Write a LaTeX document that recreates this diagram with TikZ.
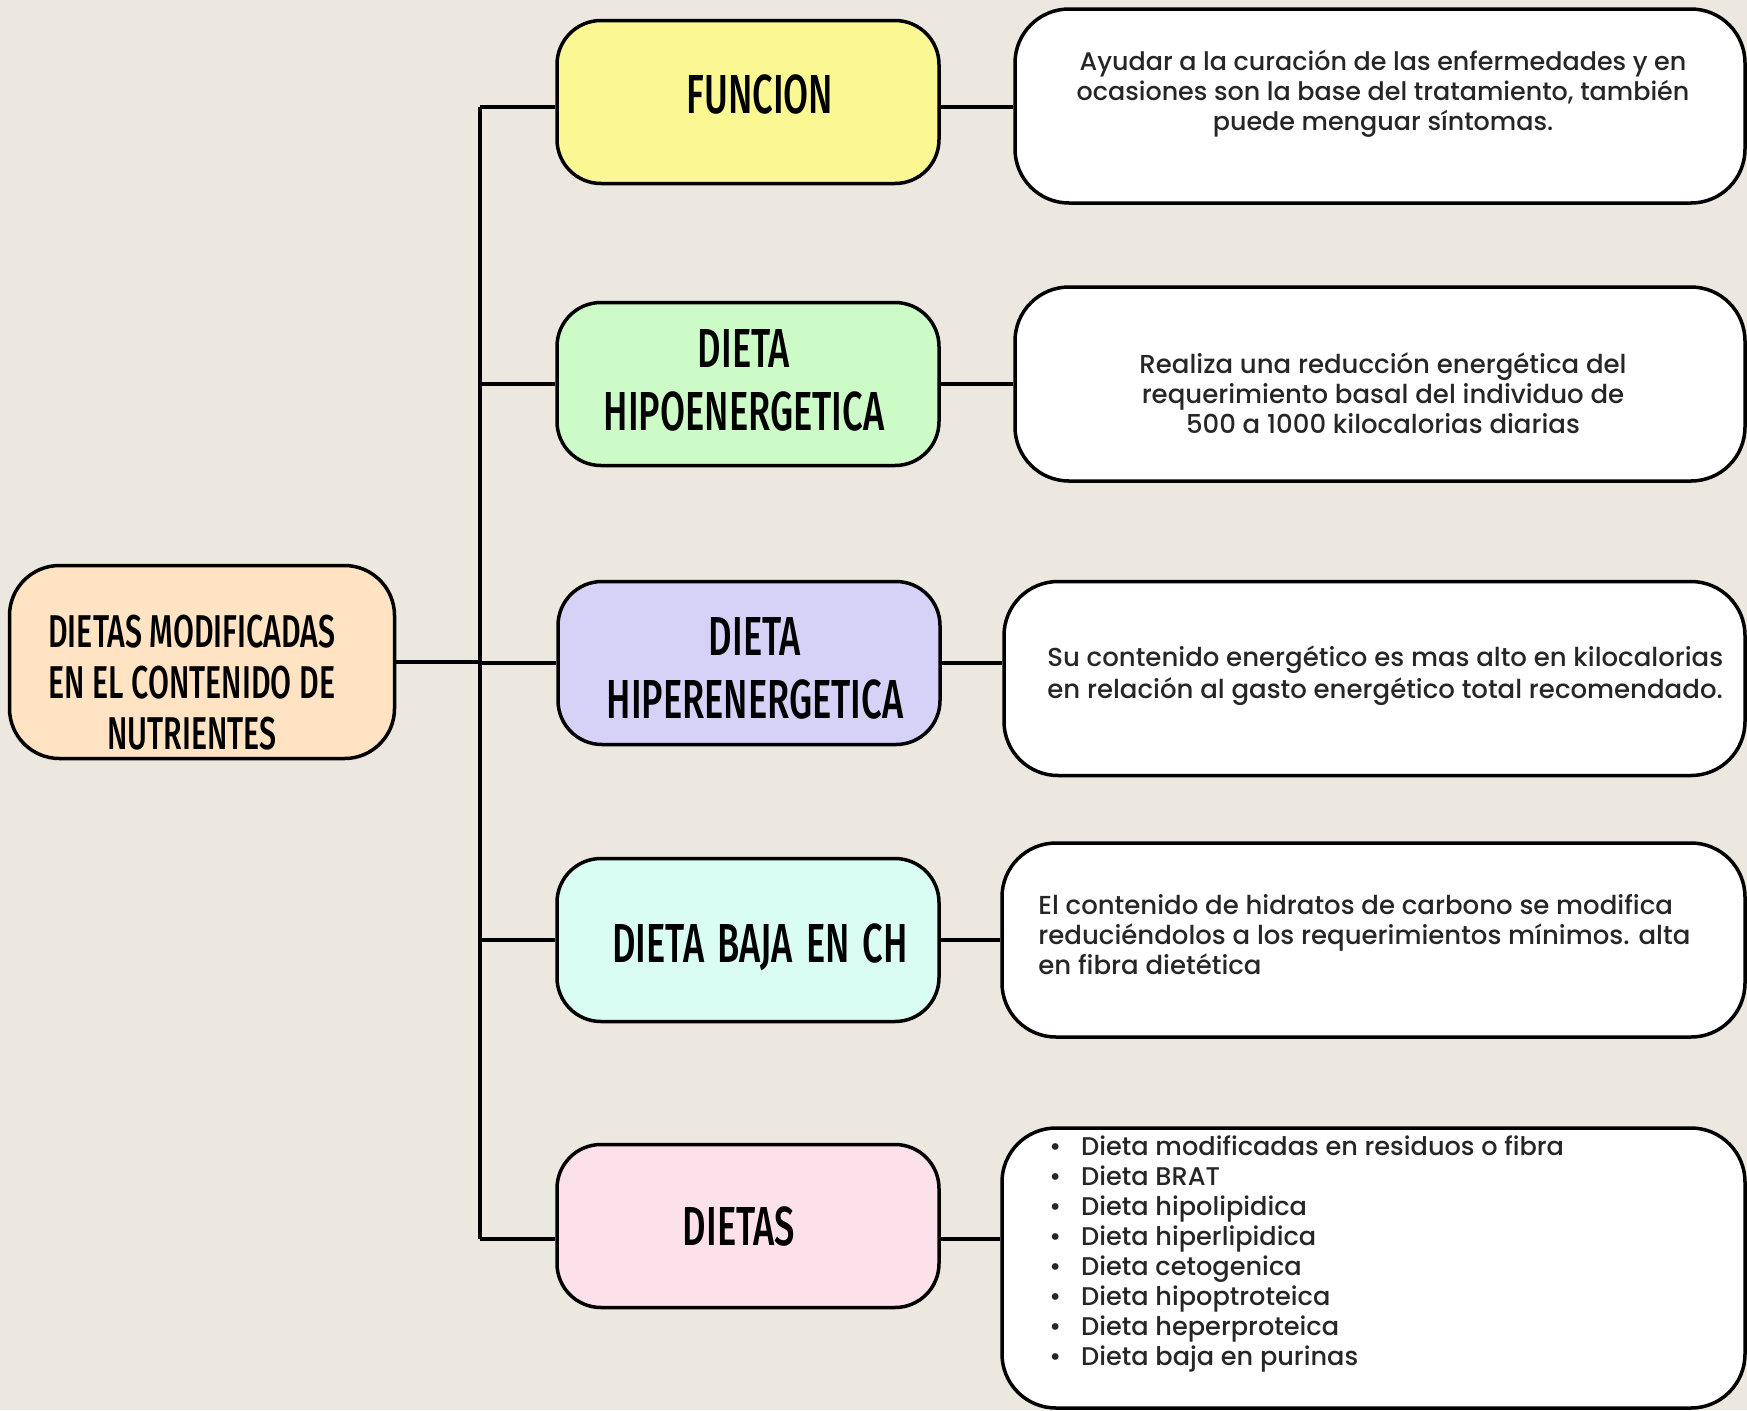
\documentclass[tikz,border=0pt]{standalone}
\usepackage{fontspec}
\setmainfont{Poppins Medium}
\newfontfamily\headfont[FakeStretch=0.66]{Fira Sans Medium}
\usepackage{xcolor}
\usetikzlibrary{calc}
\definecolor{paper}{HTML}{ECE8E0}
\definecolor{ink}{HTML}{262626}
\definecolor{peach}{HTML}{FFE3C2}
\definecolor{lemon}{HTML}{FBF893}
\definecolor{mint}{HTML}{CCFBC8}
\definecolor{lilac}{HTML}{D6D1F7}
\definecolor{aqua}{HTML}{D9FCF3}
\definecolor{rose}{HTML}{FDE1EA}

\begin{document}
\begin{tikzpicture}[x=0.5pt,y=-0.5pt,
	box/.style={draw=black,line width=1.75pt,rounded corners=22pt,
		minimum width=191pt,minimum height=81.5pt,inner sep=0pt},
	note/.style={draw=black,fill=white,line width=1.75pt,rounded corners=27pt,
		minimum height=97pt,inner sep=0pt},
	head/.style={font=\headfont\fontsize{27.5}{31.5}\selectfont,
		align=center,text=black,inner sep=0pt},
	body/.style={font=\fontsize{13}{15}\selectfont,text=ink,inner sep=0pt},
	link/.style={line width=1.6pt}]
	
	\useasboundingbox[fill=paper] (0,0) rectangle (1747,1410);
	
	\coordinate (trunk) at (480,0); % x of the vertical bar
	
	% root
	\node[box,fill=peach,minimum width=192.5pt,minimum height=96.5pt,
		rounded corners=25pt] (root) at (202,662) {};
	\node[head,font=\headfont\fontsize{23}{25.5}\selectfont]
		(roottext) at (192,683) {DIETAS MODIFICADAS\\EN EL CONTENIDO DE\\NUTRIENTES};
	
	% middle column
	\node[box,fill=lemon] (fun) at (748,102) {};
	\node[box,fill=mint] (hipo) at (748,384) {};
	\node[box,fill=lilac] (hiper) at (749,663) {};
	\node[box,fill=aqua] (baja) at (748,940) {};
	\node[box,fill=rose] (dietas) at (748,1226) {};
	
	\node[head] (funtext) at (760,94) {FUNCION};
	\node[head] (hipotext) at (744,380) {DIETA\\HIPOENERGETICA};
	\node[head] (hipertext) at (755,668) {DIETA\\HIPERENERGETICA};
	\node[head] (bajatext) at (760,947) {DIETA\hspace{2pt} BAJA\hspace{2pt} EN\hspace{2pt} CH};
	\node[head] (dietastext) at (739,1226) {DIETAS};
	
	% right column
	\node[note,minimum width=365pt] (d1) at (1380,106) {};
	\node[note,minimum width=365pt] (d2) at (1380,384) {};
	\node[note,minimum width=370.5pt] (d3) at (1374.5,678.5) {};
	\node[note,minimum width=371.5pt] (d4) at (1373.5,940) {};
	\node[note,minimum width=371.5pt,minimum height=140pt] (d5) at (1373.5,1268) {};
	
	\node[body,align=center,font=\fontsize{12.7}{15}\selectfont] (d1text) at (1383,94)
		{Ayudar a la curación de las enfermedades y en\\
		 ocasiones son la base del tratamiento, también\\
		 puede menguar síntomas.};
	\node[body,align=center] (d2text) at (1383,393)
		{Realiza una reducción energética del\\
		 requerimiento basal del individuo de\\
		 500 a 1000 kilocalorias diarias};
	\node[body,align=left,anchor=west,font=\fontsize{13}{16}\selectfont]
		(d3text) at (1047,676)
		{Su contenido energético es mas alto en kilocalorias\\
		 en relación al gasto energético total recomendado.};
	\node[body,align=left,anchor=west] (d4text) at (1038,935)
		{El contenido de hidratos de carbono se modifica\\
		 reduciéndolos a los requerimientos mínimos. alta\\
		 en fibra dietética};
	\node[body,align=left,anchor=west,font=\fontsize{12.8}{15}\selectfont]
		(d5text) at (1049,1254)
		{\textbullet\hspace{10pt}Dieta modificadas en residuos o fibra\\
		 \textbullet\hspace{10pt}Dieta BRAT\\
		 \textbullet\hspace{10pt}Dieta hipolipidica\\
		 \textbullet\hspace{10pt}Dieta hiperlipidica\\
		 \textbullet\hspace{10pt}Dieta cetogenica\\
		 \textbullet\hspace{10pt}Dieta hipoptroteica\\
		 \textbullet\hspace{10pt}Dieta heperproteica\\
		 \textbullet\hspace{10pt}Dieta baja en purinas};
	
	% connectors, slightly below the box centres at top and bottom
	\coordinate (top) at ($(fun.west)+(0,5)$);
	\coordinate (bot) at ($(dietas.west)+(0,13)$);
	\draw[link] (top -| trunk) -- (bot -| trunk);
	\draw[link] (root.east) -- (root.east -| trunk);
	\draw[link] (top -| trunk) -- (top) (top -| fun.east) -- (top -| d1.west);
	\draw[link] (bot -| trunk) -- (bot) (bot -| dietas.east) -- (bot -| d5.west);
	\foreach \b/\d in {hipo/d2,hiper/d3,baja/d4}{
		\draw[link] (\b.west -| trunk) -- (\b.west);
		\draw[link] (\b.east) -- (\b.east -| \d.west);
	}
	
\end{tikzpicture}
\end{document}
